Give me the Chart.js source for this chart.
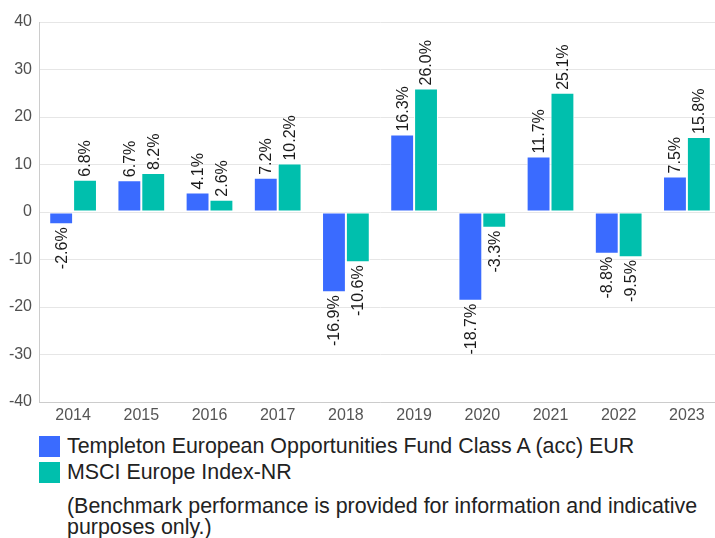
<!DOCTYPE html>
<html>
<head>
<meta charset="utf-8">
<script src="https://cdn.jsdelivr.net/npm/chart.js@4/dist/chart.umd.min.js"></script>
<style>
  html, body { margin: 0; padding: 0; background: #ffffff; overflow: hidden; width: 715px; height: 538px; }
  #wrap { position: relative; width: 715px; height: 538px; overflow: hidden; }
  #c { position: absolute; left: 0; top: 0; display: block; }
  .lg { position: absolute; left: 39px; font-family: "Liberation Sans", Arial, sans-serif; font-size: 21.4px; color: #222; white-space: nowrap; }
  .sw { position: absolute; left: 0; top: 0; width: 21px; height: 21px; }
  .lt { position: absolute; left: 28px; top: -1px; line-height: 22px; }
  #note { position: absolute; left: 67px; top: 496px; width: 645px; font-family: "Liberation Sans", Arial, sans-serif; font-size: 21.4px; line-height: 21px; color: #222; }
</style>
</head>
<body>
<div id="wrap">
  <canvas id="c" width="722" height="432"></canvas>
  <div id="legend"></div>
  <div id="note"></div>
</div>
<script>
const categories = ["2014","2015","2016","2017","2018","2019","2020","2021","2022","2023"];
const fundName = "Templeton European Opportunities Fund Class A (acc) EUR";
const indexName = "MSCI Europe Index-NR";
const fundValues = [-2.6, 6.7, 4.1, 7.2, -16.9, 16.3, -18.7, 11.7, -8.8, 7.5];
const indexValues = [6.8, 8.2, 2.6, 10.2, -10.6, 26.0, -3.3, 25.1, -9.5, 15.8];
const yTicks = [-40, -30, -20, -10, 0, 10, 20, 30, 40];
const noteText = "(Benchmark performance is provided for information and indicative purposes only.)";

const fundColor = "#3a6bff";
const indexColor = "#00bfad";
const FONT = '"Liberation Sans", Arial, sans-serif';

const valueLabels = {
  id: "valueLabels",
  afterDatasetsDraw(chart) {
    const ctx = chart.ctx;
    ctx.save();
    ctx.font = "16px " + FONT;
    ctx.fillStyle = "#1a1a1a";
    ctx.textBaseline = "middle";
    chart.data.datasets.forEach((ds, di) => {
      const meta = chart.getDatasetMeta(di);
      meta.data.forEach((el, i) => {
        const v = ds.data[i];
        const txt = v.toFixed(1) + "%";
        ctx.save();
        if (v >= 0) {
          ctx.translate(el.x, el.y - 3);
          ctx.rotate(-Math.PI / 2);
          ctx.textAlign = "left";
        } else {
          ctx.translate(el.x, el.y + 3);
          ctx.rotate(-Math.PI / 2);
          ctx.textAlign = "right";
        }
        ctx.fillText(txt, 0, 1);
        ctx.restore();
      });
    });
    ctx.restore();
  }
};

const chart = new Chart(document.getElementById("c"), {
  type: "bar",
  data: {
    labels: categories,
    datasets: [
      { label: fundName, data: fundValues, backgroundColor: fundColor, borderColor: "#ffffff", borderWidth: 1, borderSkipped: false, barPercentage: 1, categoryPercentage: 0.7 },
      { label: indexName, data: indexValues, backgroundColor: indexColor, borderColor: "#ffffff", borderWidth: 1, borderSkipped: false, barPercentage: 1, categoryPercentage: 0.7 }
    ]
  },
  options: {
    responsive: false,
    animation: false,
    devicePixelRatio: 1,
    layout: { padding: { top: 22, right: 1, bottom: 0, left: 0 } },
    plugins: { legend: { display: false }, tooltip: { enabled: false } },
    scales: {
      x: {
        grid: { display: false, drawTicks: false },
        border: { display: true, color: "#cccccc", width: 1 },
        ticks: { color: "#555555", font: { family: FONT, size: 16 }, padding: 4, maxRotation: 0, autoSkip: false },
        afterFit: s => { s.height = 30; }
      },
      y: {
        min: -40, max: 40,
        afterBuildTicks: s => { s.ticks = yTicks.map(v => ({ value: v })); },
        grid: { color: "#e6e6e6", lineWidth: 1, drawTicks: false },
        border: { display: true, color: "#cccccc", width: 1 },
        ticks: { color: "#505050", font: { family: FONT, size: 16 }, padding: 7 },
        afterFit: s => { s.width = 39; }
      }
    }
  },
  plugins: [valueLabels]
});

// HTML legend built from the datasets
const legend = document.getElementById("legend");
chart.data.datasets.forEach((ds, i) => {
  const row = document.createElement("div");
  row.className = "lg";
  row.style.top = (436 + i * 26) + "px";
  const sw = document.createElement("div");
  sw.className = "sw";
  sw.style.background = ds.backgroundColor;
  const t = document.createElement("div");
  t.className = "lt";
  t.textContent = ds.label;
  row.appendChild(sw);
  row.appendChild(t);
  legend.appendChild(row);
});
document.getElementById("note").textContent = noteText;
</script>
</body>
</html>
